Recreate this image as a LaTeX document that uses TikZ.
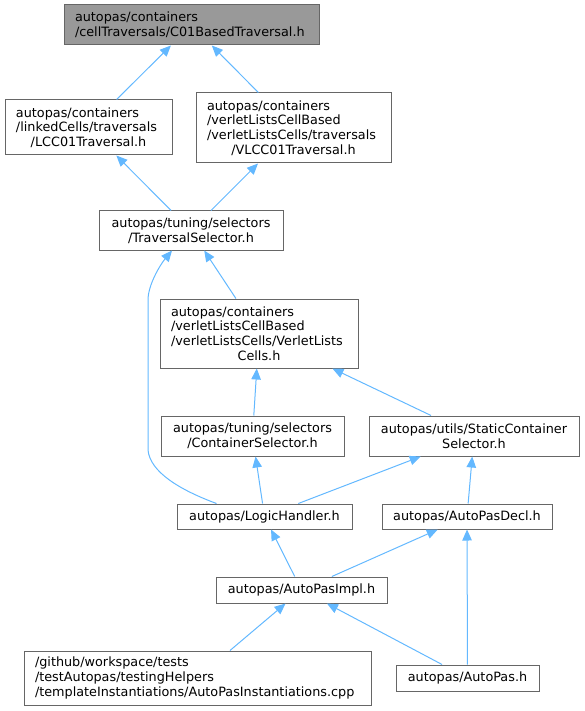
\documentclass[tikz,border=0pt]{standalone}
\usepackage{fontspec}
\setmainfont{DejaVu Sans}
\usetikzlibrary{arrows.meta}
\definecolor{edgeblue}{HTML}{63B8FF}
\definecolor{boxgray}{HTML}{666666}
\definecolor{curgray}{HTML}{999999}
\newcommand{\dox}{\fontsize{12.8}{14.7}\selectfont\hyphenpenalty=10000 }
\newcommand{\midline}[1]{\hfill#1\hfill\null}
\tikzset{
  hdr/.style  ={rectangle, draw=boxgray, fill=white, line width=1pt, font=\dox,
                inner xsep=11pt, inner ysep=2pt, align=center},
  hdrl/.style ={hdr, align=left, text width=#1},
  cur/.style  ={hdrl=233pt, fill=curgray},
  inc/.style  ={{Triangle[length=11pt,width=9.5pt]}-, line width=1pt, draw=edgeblue},
}

\begin{document}
\begin{tikzpicture}[x=1pt, y=-1pt]
\useasboundingbox (0,0) rectangle (585,711);
\node[cur, minimum height=40pt] (cbt) at (191.5,25) {autopas/containers\\ /cellTraversals/C01BasedTraversal.h};
\node[hdrl=145pt, minimum height=55pt] (lcc) at (88.5,127.5) {autopas/containers\\ /linkedCells/traversals\\ \midline{/LCC01Traversal.h}};
\node[hdrl=173pt, minimum height=70pt] (vlcc) at (293.5,128) {autopas/containers\\ /verletListsCellBased\\ /verletListsCells/traversals\\ \midline{/VLCC01Traversal.h}};
\node[hdr, minimum width=184pt, minimum height=39pt] (tsel) at (191,230.5) {autopas/tuning/selectors\\ /TraversalSelector.h};
\node[hdrl=176pt, minimum height=69pt] (vlc) at (259,333.5) {autopas/containers\\ /verletListsCellBased\\ /verletListsCells/VerletLists\\ \midline{Cells.h}};
\node[hdr, minimum width=183pt, minimum height=40pt] (csel) at (252.5,436) {autopas/tuning/selectors\\ /ContainerSelector.h};
\node[hdr, minimum width=210pt, minimum height=40pt] (scsel) at (474,436) {autopas/utils/StaticContainer\\ Selector.h};
\node[hdr, minimum width=175pt, minimum height=25pt] (logic) at (264.5,516.5) {autopas/LogicHandler.h};
\node[hdr, minimum width=170pt, minimum height=25pt] (decl) at (467,516.5) {autopas/AutoPasDecl.h};
\node[hdr, minimum width=171pt, minimum height=26pt] (impl) at (301.5,590) {autopas/AutoPasImpl.h};
\node[hdrl=325pt, minimum height=54pt] (inst) at (197.5,678) {/github/workspace/tests\\ /testAutopas/testingHelpers\\ /templateInstantiations/AutoPasInstantiations.cpp};
\node[hdr, minimum width=143pt, minimum height=26pt] (ap) at (467.5,678) {autopas/AutoPas.h};

\draw[inc] (cbt) -- (lcc);
\draw[inc] (cbt) -- (vlcc);
\draw[inc] (lcc) -- (tsel);
\draw[inc] (vlcc) -- (tsel);
\draw[inc] (tsel) -- (vlc);
\draw[inc] ([xshift=-19pt]tsel.south) .. controls (160,265) and (148,285) .. (148,300)
   -- (148,450) .. controls (150,472) and (180,490) .. ([xshift=40pt]logic.north west);
\draw[inc] (vlc) -- (csel);
\draw[inc] (vlc) -- (scsel);
\draw[inc] (csel) -- (logic);
\draw[inc] (scsel) -- (logic);
\draw[inc] (scsel) -- (decl);
\draw[inc] (logic) -- (impl);
\draw[inc] (decl) -- (impl);
\draw[inc] (decl) -- (ap);
\draw[inc] (impl) -- (inst);
\draw[inc] (impl) -- (ap);
\end{tikzpicture}
\end{document}
